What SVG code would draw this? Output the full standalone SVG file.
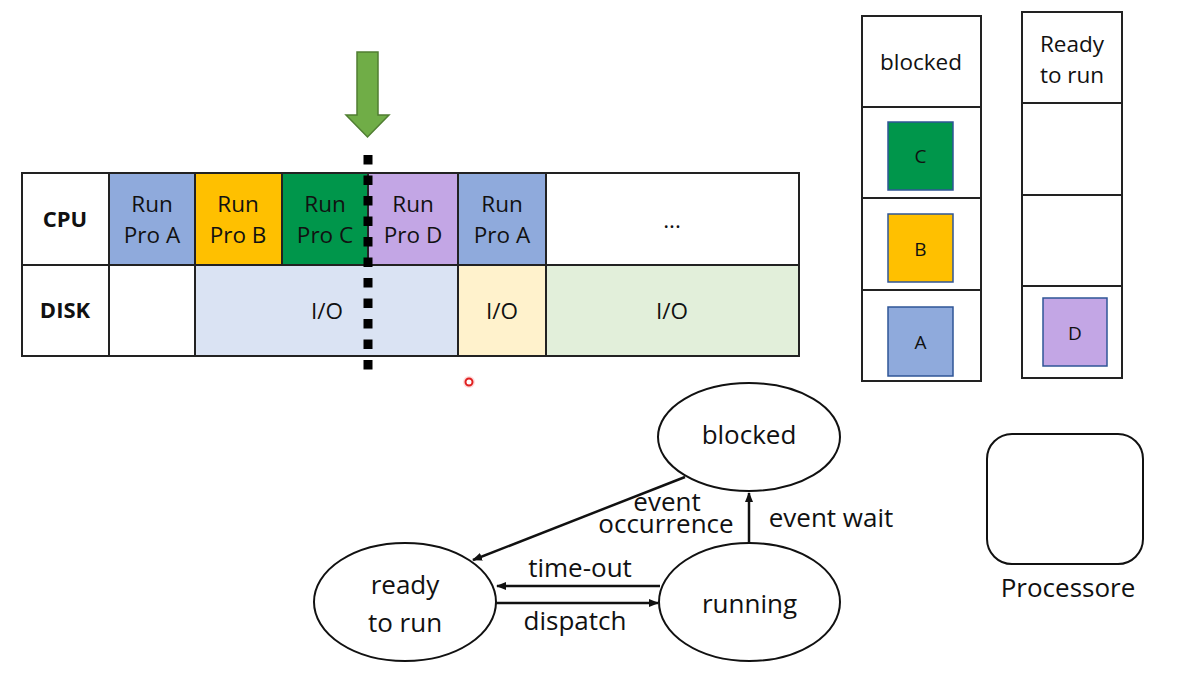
<svg xmlns="http://www.w3.org/2000/svg" width="1185" height="689" viewBox="0 0 1185 689">
<style>
text{font-family:"Open Sans","Liberation Sans",sans-serif;fill:#111;text-anchor:middle}
.t22{font-size:22.5px}
.t26{font-size:26px}
.b{font-weight:bold;font-size:22px}
.sq{font-size:19px}
.cell{stroke:#222;stroke-width:2}
.col{fill:#fff;stroke:#222;stroke-width:2}
.box{stroke:#2F5597;stroke-width:1.5}
.st{fill:#fff;stroke:#111;stroke-width:2}
.ln{stroke:#111;stroke-width:2.5;fill:none}
</style>
<defs>
<marker id="ah" markerWidth="10" markerHeight="10" refX="9" refY="5" orient="auto" markerUnits="userSpaceOnUse">
<path d="M0,1 L10,5 L0,9 Z" fill="#111"/>
</marker>
</defs>
<rect width="1185" height="689" fill="#fff"/>

<g id="timeline">
<rect class="cell" x="22" y="173" width="87" height="92" fill="#fff"/>
<rect class="cell" x="109" y="173" width="86" height="92" fill="#8FAADC"/>
<rect class="cell" x="195" y="173" width="87" height="92" fill="#FFC000"/>
<rect class="cell" x="282" y="173" width="86" height="92" fill="#00964B"/>
<rect class="cell" x="368" y="173" width="90" height="92" fill="#C3A6E5"/>
<rect class="cell" x="458" y="173" width="88" height="92" fill="#8FAADC"/>
<rect class="cell" x="546" y="173" width="253" height="92" fill="#fff"/>
<rect class="cell" x="22" y="265" width="87" height="91" fill="#fff"/>
<rect class="cell" x="109" y="265" width="86" height="91" fill="#fff"/>
<rect class="cell" x="195" y="265" width="263" height="91" fill="#DAE3F3"/>
<rect class="cell" x="458" y="265" width="88" height="91" fill="#FFF2CC"/>
<rect class="cell" x="546" y="265" width="253" height="91" fill="#E2EFDA"/>
<text class="b" x="65" y="227">CPU</text>
<text class="b" x="65" y="318">DISK</text>
<text class="t22" x="152" y="212">Run</text><text class="t22" x="152" y="243">Pro A</text>
<text class="t22" x="238" y="212">Run</text><text class="t22" x="238" y="243">Pro B</text>
<text class="t22" x="325" y="212">Run</text><text class="t22" x="325" y="243">Pro C</text>
<text class="t22" x="413" y="212">Run</text><text class="t22" x="413" y="243">Pro D</text>
<text class="t22" x="502" y="212">Run</text><text class="t22" x="502" y="243">Pro A</text>
<text class="t22" x="672" y="228">...</text>
<text class="t22" x="327" y="319">I/O</text>
<text class="t22" x="502" y="319">I/O</text>
<text class="t22" x="672" y="319">I/O</text>
</g>

<g id="marker-arrow">
<polygon points="357,52 378,52 378,115 389,115 367.5,137 346,115 357,115" fill="#70AD47" stroke="#507E32" stroke-width="1.5"/>
<line x1="368" y1="155" x2="368" y2="372" stroke="#000" stroke-width="9" stroke-dasharray="9.5 11"/>
</g>

<g id="pointer">
<circle cx="469" cy="382" r="6" fill="#ff4040" opacity="0.18"/>
<circle cx="469" cy="382" r="3.5" fill="#fff" stroke="#e02020" stroke-width="2"/>
</g>

<g id="blocked-queue">
<rect class="col" x="862" y="16" width="119" height="365"/>
<line class="cell" x1="862" y1="107" x2="981" y2="107"/>
<line class="cell" x1="862" y1="198" x2="981" y2="198"/>
<line class="cell" x1="862" y1="290" x2="981" y2="290"/>
<text class="t22" x="921" y="70">blocked</text>
<rect class="box" x="888" y="122" width="65" height="68" fill="#00964B"/>
<text class="sq" x="920.5" y="163">C</text>
<rect class="box" x="888" y="214" width="65" height="68" fill="#FFC000"/>
<text class="sq" x="920.5" y="256">B</text>
<rect class="box" x="888" y="307" width="65" height="69" fill="#8FAADC"/>
<text class="sq" x="920.5" y="349">A</text>
</g>

<g id="ready-queue">
<rect class="col" x="1022" y="12" width="100" height="366"/>
<line class="cell" x1="1022" y1="103" x2="1122" y2="103"/>
<line class="cell" x1="1022" y1="195" x2="1122" y2="195"/>
<line class="cell" x1="1022" y1="286" x2="1122" y2="286"/>
<text class="t22" x="1072" y="52">Ready</text>
<text class="t22" x="1072" y="83">to run</text>
<rect class="box" x="1043" y="298" width="64" height="68" fill="#C3A6E5"/>
<text class="sq" x="1075" y="340">D</text>
</g>

<g id="processor">
<rect x="987" y="434" width="156" height="130" rx="25" fill="#fff" stroke="#111" stroke-width="2"/>
<text class="t26" x="1068" y="597">Processore</text>
</g>

<g id="state-blocked">
<ellipse class="st" cx="749" cy="437" rx="91" ry="54"/>
<text class="t26" x="749" y="444">blocked</text>
</g>
<g id="state-ready">
<ellipse class="st" cx="405" cy="602" rx="91" ry="59"/>
<text class="t26" x="405" y="594">ready</text>
<text class="t26" x="405" y="632">to run</text>
</g>
<g id="state-running">
<ellipse class="st" cx="749.5" cy="602" rx="90.5" ry="59"/>
<text class="t26" x="749.5" y="613">running</text>
</g>

<g id="connectors">
<line class="ln" x1="685" y1="477" x2="473" y2="560" marker-end="url(#ah)"/>
<line class="ln" x1="749" y1="543" x2="749" y2="493" marker-end="url(#ah)"/>
<line class="ln" x1="660" y1="586" x2="497" y2="586" marker-end="url(#ah)"/>
<line class="ln" x1="496" y1="603" x2="658" y2="603" marker-end="url(#ah)"/>
<text class="t26" x="667" y="511">event<tspan x="666" y="533">occurrence</tspan></text>
<text class="t26" x="831" y="527">event wait</text>
<text class="t26" x="580" y="577">time-out</text>
<text class="t26" x="575" y="630">dispatch</text>
</g>
</svg>
